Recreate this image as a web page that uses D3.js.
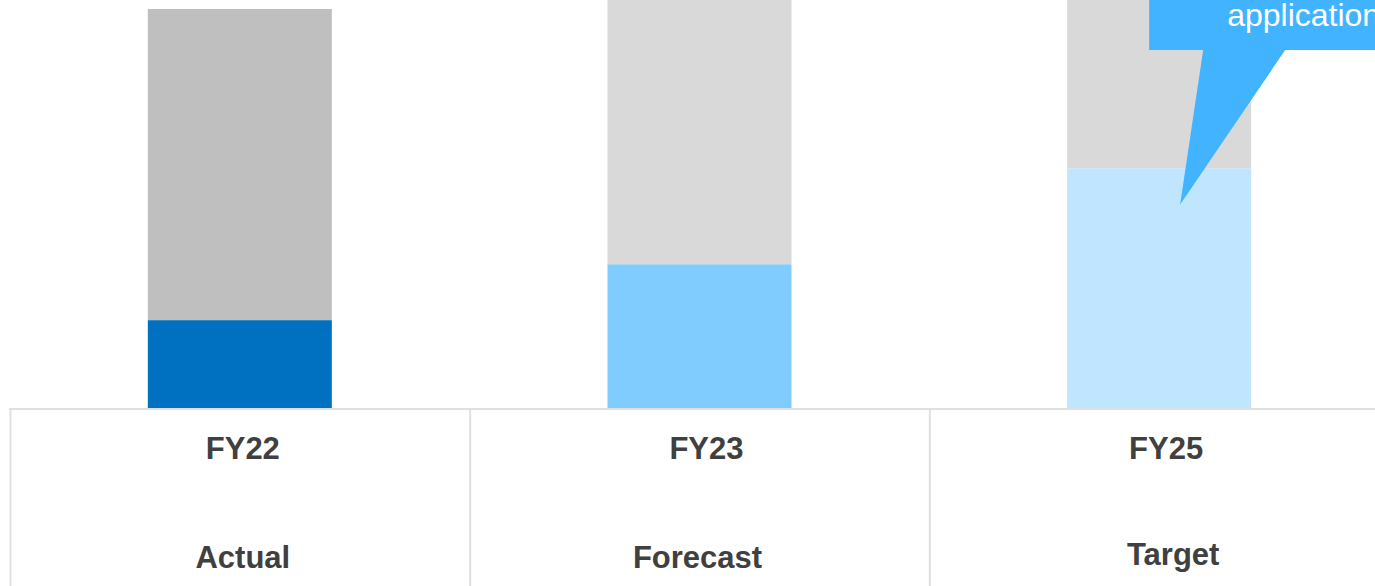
<!DOCTYPE html>
<html>
<head>
<meta charset="utf-8">
<script src="https://cdn.jsdelivr.net/npm/d3@7"></script>
<style>
  html, body { margin: 0; padding: 0; background: #fff; overflow: hidden; }
  svg { display: block; }
</style>
</head>
<body>
<svg id="chart" width="1375" height="586"></svg>
<script>
// Fiscal years, their status, and the share (percent) of the total per year
const years = ["FY22", "FY23", "FY25"];
const statuses = ["Actual", "Forecast", "Target"];
const shareValues = [22, 36, 60];
const totalValues = [100, 105, 105];
const shareColors = ["#0070c0", "#80ccff", "#bfe5ff"];
const restColors = ["#bfbfbf", "#d9d9d9", "#d9d9d9"];
const calloutText = "application";

const svg = d3.select("#chart");
const W = 1375, H = 586;
const baseY = 408;

const x = d3.scaleBand().domain(years).range([10, 1389]).paddingInner(0).paddingOuter(0);
const y = d3.scaleLinear().domain([0, 100]).range([baseY, 9]);
const barW = 184;

const rows = years.map((yr, i) => ({
  year: yr, status: statuses[i], share: shareValues[i], total: totalValues[i],
  c1: shareColors[i], c2: restColors[i]
}));

// remainder (grey) segment
svg.append("g").selectAll("rect").data(rows).join("rect")
  .attr("x", d => x(d.year) + x.bandwidth() / 2 - barW / 2)
  .attr("width", barW)
  .attr("y", d => y(d.total))
  .attr("height", d => y(d.share) - y(d.total))
  .attr("fill", d => d.c2);

// share (blue) segment
svg.append("g").selectAll("rect").data(rows).join("rect")
  .attr("x", d => x(d.year) + x.bandwidth() / 2 - barW / 2)
  .attr("width", barW)
  .attr("y", d => y(d.share))
  .attr("height", d => y(0) - y(d.share))
  .attr("fill", d => d.c1);

// table grid under the bars
const grid = svg.append("g").attr("stroke", "#e0e0e0").attr("stroke-width", 2);
grid.append("line").attr("x1", x.range()[0] - 1).attr("x2", W).attr("y1", baseY + 1).attr("y2", baseY + 1);
grid.selectAll("line.v").data(years).join("line").attr("class", "v")
  .attr("x1", d => x(d) + 0.5).attr("x2", d => x(d) + 0.5)
  .attr("y1", baseY).attr("y2", H);

// label text
const yearDx = [3, 7, 7];
const statusDx = [3, -2, 14];
const statusDy = [568, 568, 565];
const labels = svg.append("g")
  .attr("font-family", "'Liberation Sans', Arial, sans-serif")
  .attr("font-weight", "bold")
  .attr("font-size", 31)
  .attr("fill", "#404040")
  .attr("text-anchor", "middle");
labels.selectAll("text.yr").data(rows).join("text").attr("class", "yr")
  .attr("x", (d, i) => x(d.year) + x.bandwidth() / 2 + yearDx[i])
  .attr("y", 459)
  .text(d => d.year);
labels.selectAll("text.st").data(rows).join("text").attr("class", "st")
  .attr("x", (d, i) => x(d.year) + x.bandwidth() / 2 + statusDx[i])
  .attr("y", (d, i) => statusDy[i])
  .text(d => d.status);

// callout pointing into the FY25 target segment
const cx = x("FY25") + x.bandwidth() / 2;
const tipX = cx + 21, tipY = y(51);
const boxL = cx - 10, boxB = 50;
const callout = svg.append("g");
callout.append("path")
  .attr("d", `M${boxL},-10 L${W + 10},-10 L${W + 10},${boxB} L${cx + 126},${boxB} L${tipX},${tipY} L${cx + 44},${boxB} L${boxL},${boxB} Z`)
  .attr("fill", "#41b3ff");
callout.append("text")
  .attr("x", cx + 68)
  .attr("y", 26)
  .attr("font-family", "'Liberation Sans', Arial, sans-serif")
  .attr("font-size", 32)
  .attr("fill", "#ffffff")
  .text(calloutText);
</script>
</body>
</html>
